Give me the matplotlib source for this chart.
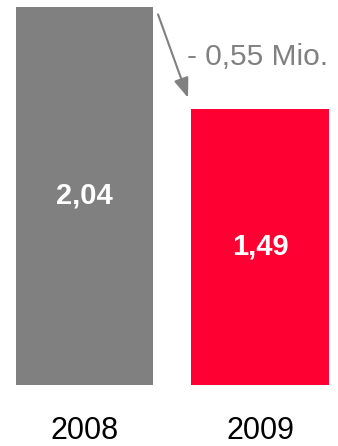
import matplotlib
matplotlib.use("Agg")
import matplotlib.pyplot as plt

# Passenger numbers (millions)
years = ["2008", "2009"]
values = [2.04, 1.49]
colors = ["#808080", "#FF0033"]

plt.rcParams["font.family"] = ["Liberation Sans", "DejaVu Sans"]

W, H = 338, 446
fig = plt.figure(figsize=(W / 100, H / 100), dpi=100)
# axes: bottom edge at y=385px from top, top edge at 7px from top
ax = fig.add_axes([0, (H - 385) / H, 1, 378 / H])

ax.bar(years, values, width=0.781, color=colors)
ax.set_xlim(-84.5 / 175.5, (W - 84.5) / 175.5)
ax.set_ylim(0, values[0])

def fmt(v):
    return f"{v:.2f}".replace(".", ",")

for i, v in enumerate(values):
    ax.text(i, v / 2, fmt(v), ha="center", va="center", color="white",
            fontsize=21, fontweight="bold")

# year labels under the bars
ax.set_xticks(range(len(years)))
ax.set_xticklabels(years, fontsize=22, color="black")
ax.tick_params(axis="x", length=0, pad=22)
ax.set_yticks([])
for s in ax.spines.values():
    s.set_visible(False)

# change arrow and label
diff = values[0] - values[1]
ax.annotate("", xy=(0.590, values[1] + 0.06), xytext=(0.419, values[0] - 0.04),
            arrowprops=dict(arrowstyle="-|>,head_length=1.2,head_width=0.45",
                            color="#808080", lw=1.5, shrinkA=0, shrinkB=0),
            annotation_clip=False)
ax.text(0.584, 1.77, f"- {fmt(diff)} Mio.", ha="left", va="center",
        color="#808080", fontsize=21.5)

fig.savefig("out.png", dpi=100)
